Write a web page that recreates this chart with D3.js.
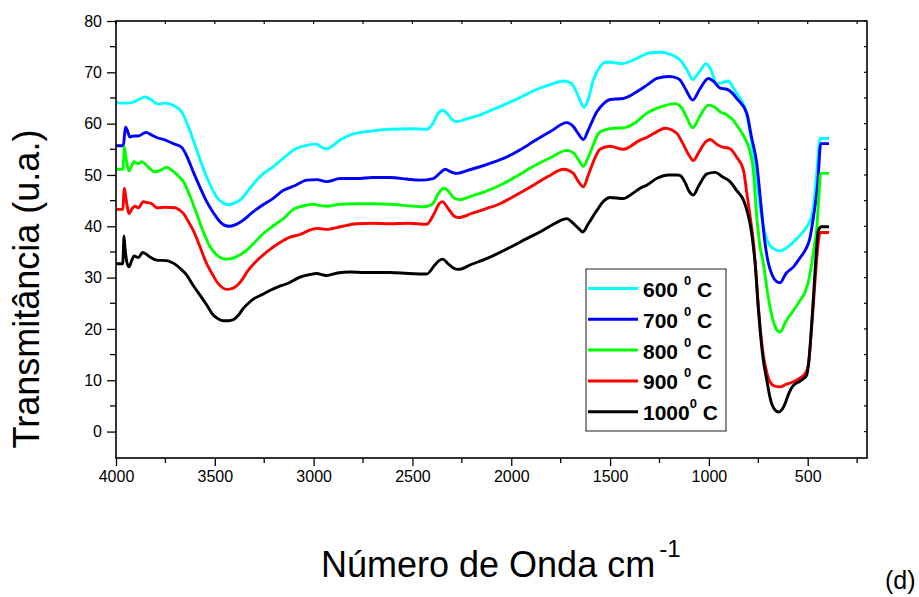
<!DOCTYPE html>
<html>
<head>
<meta charset="utf-8">
<script src="https://cdn.jsdelivr.net/npm/d3@7"></script>
<style>
  html, body { margin: 0; padding: 0; background: #fff; }
  svg { display: block; font-family: "Liberation Sans", Arial, sans-serif; }
</style>
</head>
<body>
<svg id="chart" width="919" height="597"></svg>
<script>
// FTIR spectra, [wavenumber, transmittance]
const t600 = [[4000,64.1],[3960,64.0],[3920,64.1],[3880,64.8],[3853,65.2],[3820,64.6],[3786,63.8],[3752,64.0],[3701,63.4],[3668,62.3],[3640,60],[3609,56.8],[3575,53],[3541,49.6],[3510,47],[3490,45.7],[3460,44.6],[3432,44.2],[3400,44.5],[3364,45.4],[3330,47],[3288,49],[3250,50.4],[3204,51.6],[3150,53.4],[3086,55.2],[3030,55.8],[2984,56],[2960,55.4],[2934,55.1],[2900,55.8],[2866,56.8],[2799,58],[2700,58.6],[2613,58.9],[2500,59],[2428,58.9],[2400,59.8],[2370,62],[2347,62.6],[2320,61.8],[2300,60.8],[2276,60.4],[2220,61],[2158,61.7],[2090,62.8],[2023,63.9],[1950,65.2],[1888,66.4],[1810,67.5],[1736,68.3],[1702,68],[1670,66.2],[1650,64.3],[1632,63.2],[1610,64.8],[1585,68.5],[1551,71.1],[1517,72],[1480,71.9],[1441,71.7],[1382,72.4],[1340,73.2],[1298,73.8],[1240,73.9],[1196,73.5],[1146,72.4],[1110,70.4],[1082,68.6],[1050,70],[1014,71.7],[990,70.5],[960,67.8],[930,68],[901,68.3],[880,67.2],[859,65.9],[817,63],[790,58],[758,49],[733,41.8],[716,38.6],[690,36.2],[660,35.4],[640,35.2],[600,36],[555,37.6],[505,39.9],[480,42],[471,43.8],[455,50],[437,57.1],[392,57.1]];

const t700 = [[4000,55.7],[3963,55.7],[3955,58.5],[3951,59.3],[3942,58.6],[3930,57.4],[3910,57.6],[3887,57.6],[3848,58.3],[3820,57.8],[3794,57.3],[3750,56.8],[3710,56.1],[3668,55.4],[3640,53.5],[3609,50.6],[3575,47.6],[3541,44.8],[3505,42.5],[3474,40.9],[3445,40.1],[3423,40],[3390,40.4],[3356,41.2],[3310,42.7],[3271,43.8],[3210,45.3],[3153,47],[3090,48],[3035,49],[2984,49.1],[2934,48.7],[2866,49.3],[2782,49.3],[2700,49.5],[2613,49.5],[2530,49.2],[2462,49],[2395,49.3],[2360,50.4],[2335,51.1],[2305,50.6],[2276,50.3],[2220,50.9],[2158,51.6],[2090,52.5],[2023,53.5],[1950,55],[1888,56.5],[1800,58.5],[1719,60.2],[1685,59.4],[1660,58],[1635,56.9],[1610,58.8],[1567,62.3],[1530,64],[1500,64.7],[1433,64.9],[1365,66.2],[1310,67.6],[1264,68.8],[1200,69.2],[1162,68.9],[1146,68.5],[1115,66.5],[1082,64.6],[1045,66.8],[1003,68.8],[975,68.2],[943,66.9],[909,66.7],[880,65.9],[859,64.9],[808,62],[785,57.5],[758,52.3],[736,44],[716,36.7],[700,33],[680,30.5],[660,29.3],[640,29],[610,30.8],[572,32.1],[540,33.8],[513,35.3],[490,37.5],[471,41.8],[450,48],[434,56.1],[392,56.1]];

const t800 = [[4000,51.1],[3965,51.1],[3960,54],[3958,55.5],[3950,53.5],[3934,50.8],[3920,51.8],[3909,52.6],[3895,52.3],[3887,52.2],[3870,52.6],[3836,51.5],[3803,50.6],[3770,51],[3744,51.5],[3720,51],[3701,50.4],[3680,49.6],[3659,48.7],[3630,46.3],[3592,42.5],[3560,39.1],[3524,36],[3490,34.4],[3460,33.7],[3440,33.6],[3400,33.9],[3370,34.5],[3339,35.3],[3300,36.8],[3254,38.6],[3200,40.2],[3150,41.6],[3103,43.3],[3050,44],[3001,44.3],[2960,44],[2934,43.9],[2866,44.3],[2782,44.4],[2700,44.4],[2613,44.3],[2520,44],[2445,43.8],[2400,44.3],[2370,46.3],[2340,47.4],[2310,46.5],[2290,45.5],[2259,45.2],[2200,45.9],[2130,46.8],[2057,48],[1970,49.8],[1888,51.7],[1800,53.4],[1719,54.8],[1685,54.3],[1660,53],[1635,51.7],[1610,53.5],[1551,58.4],[1483,59.1],[1433,59.2],[1380,60],[1315,62],[1240,63.3],[1171,63.9],[1140,63.2],[1110,61],[1082,59.2],[1045,61.5],[1003,63.6],[970,63.2],[943,62.3],[909,61.7],[880,60.8],[859,59.7],[817,57.1],[795,55],[775,50.9],[758,42],[741,36],[724,32.7],[707,28],[691,24.3],[670,21],[655,19.7],[640,19.4],[610,21.5],[572,23.6],[540,25.5],[513,27.2],[495,29.5],[480,32.7],[465,36.5],[455,39.2],[445,45],[434,50.3],[392,50.3]];

const t900 = [[4000,43.3],[3965,43.3],[3961,46],[3958,47.4],[3950,45.5],[3933,42.5],[3918,43.5],[3904,43.9],[3887,43.6],[3862,44.8],[3840,44.6],[3819,44.4],[3794,43.6],[3750,43.7],[3701,43.6],[3680,43.2],[3659,42.5],[3635,41],[3609,39.2],[3575,36],[3541,32.7],[3510,30.5],[3490,29.2],[3460,28],[3440,27.7],[3410,27.9],[3381,28.7],[3360,29.7],[3339,31],[3300,32.8],[3237,35],[3180,36.6],[3119,37.9],[3069,38.4],[3030,39.1],[2984,39.6],[2934,39.4],[2866,39.9],[2782,40.5],[2700,40.6],[2613,40.5],[2520,40.6],[2428,40.4],[2390,42.5],[2365,44.4],[2349,44.8],[2320,43.5],[2290,42],[2268,41.7],[2200,42.5],[2130,43.4],[2057,44.4],[1970,46.2],[1888,48],[1810,49.8],[1736,51.1],[1700,50.7],[1685,50.3],[1660,48.7],[1635,47.7],[1610,50],[1580,53],[1551,55],[1500,55.6],[1433,55],[1348,56.8],[1315,57.3],[1260,58.5],[1222,59.1],[1190,58.8],[1162,58.1],[1130,56],[1100,53.8],[1079,52.8],[1050,54.5],[1020,56.3],[994,56.9],[960,56],[943,55.6],[893,55.1],[860,53.5],[825,50.9],[810,47],[791,41.8],[775,37],[766,33],[750,24.5],[741,20.5],[725,15],[707,11.5],[690,9.6],[670,8.9],[640,8.7],[610,9.2],[572,9.7],[540,10.4],[513,11.3],[496,13],[485,18],[471,25],[458,32],[446,37],[437,38.8],[392,38.8]];

const t1000 = [[4000,32.7],[3966,32.7],[3962,36],[3960,38.1],[3955,36],[3945,33],[3934,32.1],[3920,33.4],[3909,34.2],[3887,33.9],[3865,34.9],[3845,34.5],[3828,34],[3794,33.4],[3744,33.3],[3720,33],[3693,32.4],[3670,31.6],[3642,30.5],[3610,28.5],[3575,26.6],[3540,24.6],[3508,22.7],[3480,21.9],[3457,21.6],[3430,21.6],[3406,21.8],[3380,22.7],[3356,24],[3330,25],[3305,25.8],[3260,26.7],[3221,27.5],[3180,28.2],[3136,28.8],[3100,29.5],[3069,30.1],[3020,30.6],[2984,30.8],[2950,30.5],[2934,30.4],[2880,30.9],[2816,31.1],[2740,31],[2660,31],[2613,31],[2520,30.8],[2428,30.7],[2390,32.3],[2365,33.3],[2347,33.6],[2320,32.7],[2290,31.8],[2268,31.6],[2200,32.6],[2107,34],[2000,36],[1922,37.6],[1850,39],[1787,40.4],[1740,41.3],[1719,41.5],[1690,40.7],[1660,39.6],[1638,38.9],[1610,40.5],[1567,43.1],[1530,45],[1500,45.6],[1433,45.4],[1390,46.3],[1348,47.4],[1315,48],[1260,49.4],[1205,50],[1160,50],[1146,49.9],[1120,48.5],[1100,46.8],[1079,46.1],[1050,48],[1010,50.2],[969,50.5],[930,49.6],[893,48.7],[860,47],[825,45.1],[800,42],[785,39],[775,36],[766,32.8],[750,24],[741,19.8],[725,14],[707,10],[690,6.5],[682,5.4],[665,4.2],[648,3.8],[630,4.3],[615,5.4],[600,7],[585,8.3],[572,9],[540,9.8],[522,10.3],[505,11],[496,13.2],[485,18],[471,26.2],[460,33],[446,39.2],[430,39.9],[392,39.9]];

const seriesNames = ["600", "700", "800", "900", "1000"];
const seriesData = [t600, t700, t800, t900, t1000];
const seriesColors = ["#00ffff", "#0000ff", "#00ff00", "#ff0000", "#000000"];

const xTicks = [4000, 3500, 3000, 2500, 2000, 1500, 1000, 500];
const yTicks = [0, 10, 20, 30, 40, 50, 60, 70, 80];

const margin = {top: 21, left: 116, right: 52, bottom: 139};
const W = 919, H = 597;
const width = W - margin.left - margin.right;
const height = H - margin.top - margin.bottom;

const svg = d3.select("#chart");

const x = d3.scaleLinear().domain([4000, 200]).range([0, width]);
const y = d3.scaleLinear().domain([-5.15, 80]).range([height, 0]);

const g = svg.append("g").attr("transform", `translate(${margin.left},${margin.top})`);

// curves
const line = d3.line()
  .x(d => x(d[0]))
  .y(d => y(d[1]))
  .curve(d3.curveMonotoneX);

g.selectAll("path.spec")
  .data(seriesData)
  .join("path")
  .attr("class", "spec")
  .attr("d", line)
  .attr("fill", "none")
  .attr("stroke", (d, i) => seriesColors[i])
  .attr("stroke-width", 2.9)
  .attr("stroke-linejoin", "round");

// axes
const minorX = d3.range(3750, 200, -500);
const minorY = d3.range(-5, 80, 10).filter(v => v > -5);

const xAxis = g.append("g").attr("transform", `translate(0,${height})`)
  .call(d3.axisBottom(x).tickValues(xTicks).tickSize(8).tickPadding(5).tickFormat(d3.format("d")));
xAxis.append("g").selectAll("line").data(minorX).join("line")
  .attr("x1", d => x(d)).attr("x2", d => x(d)).attr("y1", 0).attr("y2", 5)
  .attr("stroke", "#000").attr("stroke-width", 1.3);

const yAxis = g.append("g")
  .call(d3.axisLeft(y).tickValues(yTicks).tickSize(9).tickPadding(5));
yAxis.append("g").selectAll("line").data(minorY).join("line")
  .attr("y1", d => y(d)).attr("y2", d => y(d)).attr("x1", 0).attr("x2", -6)
  .attr("stroke", "#000").attr("stroke-width", 1.3);

[xAxis, yAxis].forEach(a => {
  a.select(".domain").remove();
  a.selectAll(".tick line").attr("stroke", "#000").attr("stroke-width", 1.3);
  a.selectAll(".tick text").attr("fill", "#000").attr("font-size", 16)
    .attr("font-family", "'Liberation Sans', Arial, sans-serif");
});

// mirror ticks on top and right (inside)
g.append("g").selectAll("line").data(xTicks.concat(minorX)).join("line")
  .attr("x1", d => x(d)).attr("x2", d => x(d)).attr("y1", 0).attr("y2", 3)
  .attr("stroke", "#000").attr("stroke-width", 1.2);
g.append("g").selectAll("line").data(yTicks.concat(minorY)).join("line")
  .attr("y1", d => y(d)).attr("y2", d => y(d)).attr("x1", width).attr("x2", width - 3)
  .attr("stroke", "#000").attr("stroke-width", 1.2);

// frame
g.append("rect")
  .attr("width", width).attr("height", height)
  .attr("fill", "none").attr("stroke", "#000").attr("stroke-width", 1.6);

// legend
const leg = svg.append("g").attr("transform", "translate(586,269)");
leg.append("rect").attr("width", 140).attr("height", 162)
  .attr("fill", "#fff").attr("stroke", "#444").attr("stroke-width", 1.2);

seriesNames.forEach((name, i) => {
  const ly = 19.5 + i * 30.8;
  leg.append("line")
    .attr("x1", 2).attr("x2", 52).attr("y1", ly).attr("y2", ly)
    .attr("stroke", seriesColors[i]).attr("stroke-width", 3);
  const t = leg.append("text")
    .attr("x", 57).attr("y", ly + 8.5)
    .attr("font-size", 21).attr("font-weight", "bold").attr("fill", "#000");
  t.append("tspan").text(name.length > 3 ? name : name + " ");
  t.append("tspan").attr("font-size", 13).attr("dy", -12).text("0");
  t.append("tspan").attr("dy", 12).text(" C");
});

// titles
svg.append("text")
  .attr("transform", "translate(38.5,289) rotate(-90)")
  .attr("text-anchor", "middle")
  .attr("font-size", 36)
  .attr("fill", "#000")
  .text("Transmitância (u.a.)");

const xt = svg.append("text")
  .attr("x", 321).attr("y", 577)
  .attr("font-size", 36)
  .attr("fill", "#000");
xt.append("tspan").text("Número de Onda cm");
xt.append("tspan").attr("font-size", 24).attr("dx", 4).attr("dy", -20).text("-1");

svg.append("text")
  .attr("x", 885).attr("y", 589)
  .attr("font-size", 25)
  .attr("fill", "#000")
  .text("(d)");
</script>
</body>
</html>
